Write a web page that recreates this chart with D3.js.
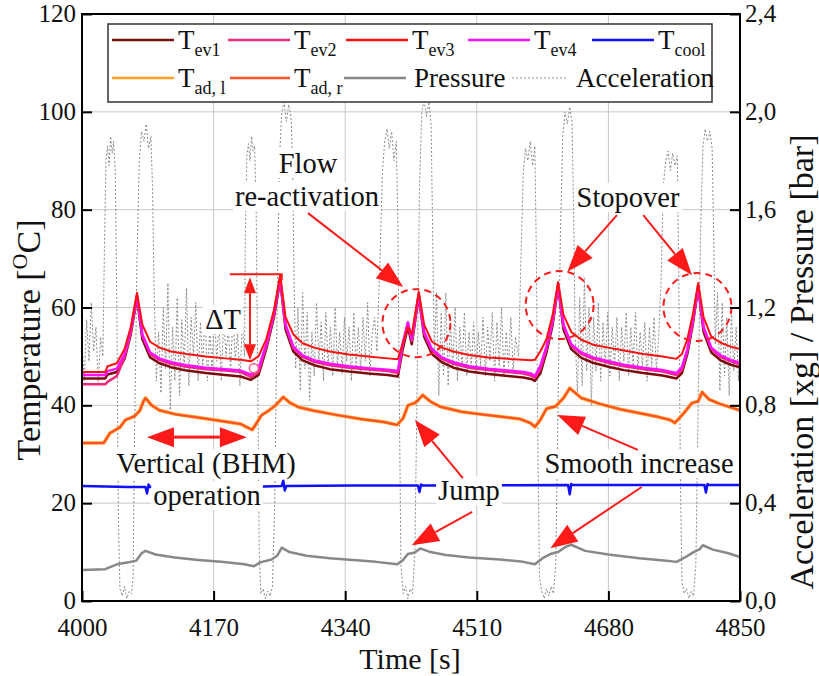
<!DOCTYPE html>
<html>
<head>
<meta charset="utf-8">
<script src="https://cdn.jsdelivr.net/npm/d3@7"></script>
<style>
  body { margin: 0; background: #fff; }
</style>
</head>
<body>
<div id="chart"></div>
<script>
// ---- data ----
let xTicks = [4000, 4170, 4340, 4510, 4680, 4850];
let yTicksLeft = [0, 20, 40, 60, 80, 100, 120];
let yTicksRight = [0, 0.4, 0.8, 1.2, 1.6, 2.0, 2.4];

// shared time base for the four evaporator temperatures [s]
let tevTime = [4000, 4030, 4033, 4045, 4055, 4063, 4071, 4078, 4088, 4100, 4115, 4135, 4160, 4185, 4205, 4218, 4228, 4238, 4248, 4256,
    4263, 4273, 4285, 4300, 4320, 4345, 4370, 4395, 4408, 4414, 4421, 4426, 4435, 4442, 4452, 4465, 4480, 4500, 4525, 4550,
    4570, 4580, 4585, 4592, 4600, 4608, 4615, 4622, 4632, 4645, 4660, 4680, 4700, 4725, 4750, 4768, 4775, 4782, 4789, 4796,
    4803, 4813, 4825, 4838, 4850];
let tev1 = [45.5, 45.5, 46.3, 46.8, 49.5, 54.5, 62.0, 53.5, 49.8, 48.6, 47.8, 47.1, 46.6, 46.2, 45.9, 45.2, 46.2, 51.5, 58.0, 65.5,
    55.5, 51.0, 49.2, 48.2, 47.4, 46.9, 46.5, 46.2, 45.9, 51.2, 56.0, 52.5, 62.3, 54.0, 50.5, 48.8, 47.7, 46.9, 46.4, 46.0,
    45.7, 45.4, 45.0, 46.5, 50.8, 56.5, 64.3, 55.5, 51.5, 49.7, 48.7, 47.9, 47.2, 46.6, 46.1, 45.5, 46.6, 50.5, 56.5, 64.0,
    55.0, 50.8, 49.2, 48.3, 47.8];
let tev2 = [44.3, 44.3, 44.8, 46.0, 49.8, 55.0, 62.3, 54.2, 50.5, 49.3, 48.5, 47.9, 47.4, 47.1, 46.8, 45.8, 46.8, 52.0, 58.5, 65.8,
    56.2, 51.7, 49.9, 48.9, 48.2, 47.7, 47.3, 47.0, 46.6, 52.0, 56.8, 53.2, 62.6, 54.7, 51.2, 49.5, 48.5, 47.7, 47.2, 46.8,
    46.5, 46.1, 45.6, 47.3, 51.5, 57.0, 64.6, 56.2, 52.2, 50.5, 49.5, 48.7, 48.0, 47.4, 46.9, 46.2, 47.2, 51.0, 57.0, 64.3,
    55.7, 51.5, 49.9, 49.0, 48.4];
let tev3 = [46.8, 46.8, 48.0, 48.6, 51.5, 56.0, 63.0, 56.5, 53.0, 51.8, 51.0, 50.5, 50.0, 49.6, 49.3, 49.0, 50.0, 53.5, 59.5, 66.6,
    58.0, 54.5, 52.7, 51.8, 51.0, 50.4, 50.0, 49.6, 49.4, 52.5, 56.0, 54.5, 63.2, 56.5, 53.0, 51.8, 51.0, 50.3, 49.8, 49.5,
    49.3, 49.2, 49.3, 51.0, 53.5, 58.5, 65.2, 58.5, 55.0, 53.4, 52.4, 51.8, 51.2, 50.5, 50.0, 49.5, 50.5, 53.5, 58.5, 65.0,
    58.0, 54.0, 52.8, 52.0, 51.5];
let tev4 = [46.2, 46.2, 47.0, 47.5, 50.5, 55.5, 62.5, 54.5, 50.8, 49.6, 48.8, 48.2, 47.7, 47.4, 47.1, 46.3, 47.5, 52.5, 59.0, 66.0,
    56.5, 52.0, 50.2, 49.2, 48.5, 48.0, 47.6, 47.3, 47.0, 52.5, 57.0, 53.5, 62.8, 55.0, 51.5, 49.8, 48.8, 48.0, 47.5, 47.1,
    46.8, 46.5, 46.0, 48.0, 52.0, 57.5, 64.8, 56.5, 52.5, 50.8, 49.8, 49.0, 48.3, 47.7, 47.2, 46.6, 47.8, 51.5, 57.5, 64.5,
    56.0, 51.8, 50.2, 49.3, 48.7];

// adiabatic wall temperatures (left and right traces coincide) [s, degC]
let tad = [[4000, 32.3], [4028, 32.3], [4036, 34.3], [4049, 35.5], [4056, 37.0], [4068, 37.8], [4075, 39.0], [4079, 40.7], [4082, 41.5],
    [4090, 40.0], [4100, 39.0], [4120, 38.2], [4150, 37.5], [4180, 36.8], [4205, 36.2], [4212, 35.6], [4220, 35.0], [4226, 36.5],
    [4232, 38.0], [4242, 39.0], [4250, 40.0], [4260, 41.7], [4268, 40.6], [4280, 39.6], [4300, 38.9], [4330, 38.0], [4360, 37.2],
    [4390, 36.6], [4407, 36.0], [4415, 37.4], [4421, 40.0], [4430, 40.5], [4434, 41.0], [4440, 42.1], [4450, 40.8], [4463, 39.7],
    [4490, 38.7], [4514, 38.2], [4545, 37.6], [4566, 37.2], [4579, 36.4], [4585, 35.6], [4592, 37.0], [4600, 39.3], [4612, 39.8],
    [4622, 41.5], [4630, 43.5], [4645, 41.5], [4669, 40.3], [4695, 39.2], [4721, 38.4], [4745, 37.6], [4760, 37.0], [4766, 36.4],
    [4778, 38.5], [4788, 40.5], [4796, 40.8], [4801, 42.7], [4810, 41.2], [4824, 40.3], [4850, 39.0]];

let tcool = [[4000, 23.5], [4030, 23.4], [4060, 23.3], [4082, 23.3], [4084, 22.0], [4086, 23.8], [4088, 23.3], [4150, 23.4],
    [4235, 23.4], [4258, 23.5], [4260, 24.6], [4262, 22.6], [4264, 23.5], [4350, 23.6], [4434, 23.6], [4436, 22.3], [4438, 23.8],
    [4440, 23.6], [4628, 23.7], [4630, 21.8], [4632, 23.9], [4634, 23.7], [4804, 23.7], [4806, 22.2], [4808, 23.9], [4810, 23.7],
    [4850, 23.7]];

// pressure [bar]
let pressure = [[4000, 0.127], [4030, 0.130], [4045, 0.150], [4060, 0.158], [4070, 0.165], [4077, 0.195], [4082, 0.205], [4095, 0.190],
    [4120, 0.178], [4150, 0.168], [4180, 0.160], [4210, 0.150], [4222, 0.142], [4230, 0.158], [4245, 0.170], [4252, 0.185],
    [4258, 0.218], [4268, 0.200], [4290, 0.185], [4320, 0.175], [4350, 0.168], [4380, 0.160], [4407, 0.150], [4414, 0.165],
    [4421, 0.192], [4430, 0.198], [4437, 0.215], [4450, 0.200], [4470, 0.188], [4500, 0.178], [4540, 0.170], [4570, 0.160],
    [4585, 0.150], [4595, 0.175], [4605, 0.192], [4615, 0.200], [4625, 0.222], [4632, 0.230], [4650, 0.205], [4680, 0.190],
    [4720, 0.175], [4755, 0.165], [4768, 0.160], [4780, 0.180], [4790, 0.200], [4798, 0.212], [4802, 0.228], [4815, 0.210],
    [4835, 0.195], [4850, 0.180]];

// acceleration [xg]
let accel = [[4000, 1.05], [4003, 0.90], [4006, 1.15], [4009, 0.98], [4012, 1.22], [4015, 1.02], [4018, 1.12], [4021, 0.88], [4024, 1.08], [4027, 1.00],
    [4029, 1.45], [4031, 1.80], [4033, 1.86], [4035, 1.78], [4037, 1.90], [4039, 1.83], [4041, 1.88], [4043, 1.75], [4045, 1.20], [4047, 0.35],
    [4049, 0.05], [4052, 0.02], [4055, 0.06], [4058, 0.01], [4061, 0.04], [4064, 0.03], [4066, 0.10], [4068, 0.70], [4071, 1.40], [4074, 1.80],
    [4077, 1.92], [4080, 1.88], [4083, 1.95], [4086, 1.85], [4089, 1.90], [4091, 1.70], [4093, 1.30], [4096, 0.90],
    [4099, 1.10], [4102, 0.85], [4105, 1.20], [4108, 0.95], [4111, 1.30], [4114, 0.78], [4117, 1.12], [4120, 0.90], [4123, 1.24], [4126, 0.84],
    [4129, 1.15], [4132, 0.95], [4135, 1.28], [4138, 0.88], [4141, 1.16], [4144, 1.00], [4147, 1.22], [4150, 0.90], [4153, 1.14], [4156, 0.96],
    [4159, 1.18], [4162, 0.90], [4165, 1.12], [4168, 0.94], [4171, 1.20], [4174, 0.98], [4177, 1.14], [4180, 0.90], [4183, 1.16], [4186, 1.00],
    [4189, 1.12], [4192, 0.94], [4195, 1.18], [4198, 0.98], [4201, 1.10], [4204, 0.88], [4207, 1.14], [4210, 1.00],
    [4211, 1.50], [4213, 1.82], [4215, 1.87], [4217, 1.80], [4219, 1.90], [4221, 1.84], [4223, 1.86], [4225, 1.60], [4227, 0.90], [4229, 0.20],
    [4231, 0.03], [4234, 0.05], [4237, 0.01], [4240, 0.04], [4243, 0.02], [4246, 0.06], [4249, 0.40], [4252, 1.20], [4255, 1.80], [4258, 2.00],
    [4261, 2.04], [4264, 1.96], [4267, 2.03], [4270, 1.98], [4272, 1.80], [4274, 1.30], [4276, 0.95],
    [4279, 1.20], [4282, 0.86], [4285, 1.26], [4288, 0.95], [4291, 1.18], [4294, 0.82], [4297, 1.10], [4300, 0.92], [4303, 1.22], [4306, 0.98],
    [4309, 1.14], [4312, 0.90], [4315, 1.18], [4318, 0.96], [4321, 1.12], [4324, 0.92], [4327, 1.20], [4330, 0.96], [4333, 1.10], [4336, 0.93],
    [4339, 1.16], [4342, 0.98], [4345, 1.12], [4348, 0.90], [4351, 1.18], [4354, 0.96], [4357, 1.12], [4360, 0.94], [4363, 1.16], [4366, 0.98],
    [4369, 1.22], [4372, 0.92], [4375, 1.10], [4378, 1.16],
    [4381, 1.02], [4385, 1.40], [4388, 1.75], [4391, 1.88], [4394, 1.93], [4397, 1.85], [4400, 1.92], [4403, 1.80], [4406, 1.88], [4408, 1.55],
    [4410, 0.80], [4412, 0.15], [4415, 0.03], [4418, 0.06], [4421, 0.01], [4424, 0.05], [4427, 0.03], [4430, 0.20], [4433, 0.90], [4436, 1.70],
    [4439, 2.00], [4442, 2.05], [4445, 1.98], [4448, 2.04], [4451, 1.95], [4453, 1.50], [4455, 1.00],
    [4458, 1.26], [4461, 0.84], [4464, 1.18], [4467, 0.92], [4470, 1.26], [4473, 0.88], [4476, 1.14], [4479, 0.95], [4482, 1.20], [4485, 0.90],
    [4488, 1.12], [4491, 0.96], [4494, 1.18], [4497, 0.92], [4500, 1.10], [4503, 0.96], [4506, 1.14], [4509, 0.93], [4512, 1.10], [4515, 0.96],
    [4518, 1.16], [4521, 0.92], [4524, 1.12], [4527, 0.98], [4530, 1.18], [4533, 0.90], [4536, 1.14], [4539, 0.96], [4542, 1.20], [4545, 0.92],
    [4548, 1.10], [4551, 0.96], [4554, 1.16], [4557, 0.94], [4560, 1.08],
    [4564, 1.00], [4567, 1.40], [4570, 1.75], [4573, 1.85], [4576, 1.80], [4579, 1.88], [4582, 1.78], [4585, 1.86], [4587, 1.40], [4589, 0.60],
    [4591, 0.10], [4594, 0.04], [4597, 0.01], [4600, 0.05], [4603, 0.02], [4606, 0.06], [4609, 0.03], [4612, 0.15], [4615, 0.80], [4618, 1.50],
    [4621, 1.90], [4624, 2.00], [4627, 1.95], [4630, 2.02], [4633, 1.96], [4635, 1.60], [4637, 1.10],
    [4640, 0.84], [4643, 1.24], [4646, 0.88], [4649, 1.32], [4652, 0.94], [4655, 1.20], [4658, 0.80], [4661, 1.16], [4664, 0.94], [4667, 1.22],
    [4670, 0.90], [4673, 1.14], [4676, 0.96], [4679, 1.18], [4682, 0.92], [4685, 1.12], [4688, 0.96], [4691, 1.16], [4694, 0.90], [4697, 1.12],
    [4700, 0.98], [4703, 1.18], [4706, 0.92], [4709, 1.12], [4712, 0.96], [4715, 1.18], [4718, 0.93], [4721, 1.10], [4724, 0.96], [4727, 1.14],
    [4730, 0.90], [4733, 1.12], [4736, 0.96], [4739, 1.16], [4742, 0.94], [4745, 1.08],
    [4748, 1.30], [4751, 1.70], [4754, 1.80], [4757, 1.84], [4760, 1.76], [4763, 1.83], [4766, 1.78], [4769, 1.82], [4771, 1.30], [4773, 0.50],
    [4775, 0.08], [4778, 0.03], [4781, 0.05], [4784, 0.01], [4787, 0.04], [4790, 0.02], [4793, 0.15], [4796, 0.80], [4799, 1.50], [4802, 1.85],
    [4805, 1.93], [4808, 1.88], [4811, 1.92], [4814, 1.85], [4816, 1.50], [4818, 1.05],
    [4821, 1.26], [4824, 0.86], [4827, 1.22], [4830, 0.92], [4833, 1.16], [4836, 0.84], [4839, 1.18], [4842, 0.94], [4845, 1.12], [4848, 0.90],
    [4850, 1.05]];

let colors = {
    tev1: "#7a0c0c", tev2: "#f0287a", tev3: "#ff1010", tev4: "#ff10ff", tcool: "#1010ff",
    tadL: "#ffa020", tadR: "#ff5028", pressure: "#888888", accel: "#8a8a8a"
};

// ---- layout ----
let width = 819, height = 676;
let mLeft = 82, mRight = 740, mTop = 14, mBottom = 601;
let fontSize = 27, tickFont = 25, noteFont = 28.5, titleFont = 34;
let serif = "'Liberation Serif', 'Times New Roman', Tinos, 'DejaVu Serif', serif";

let svg = d3.select("#chart").append("svg")
    .attr("width", width)
    .attr("height", height)
    .attr("font-family", serif)
    .style("font-family", serif);

let x = d3.scaleLinear().domain([4000, 4850]).range([mLeft, mRight]);
let yT = d3.scaleLinear().domain([0, 120]).range([mBottom, mTop]);
let yR = d3.scaleLinear().domain([0, 2.4]).range([mBottom, mTop]);

svg.append("defs").append("clipPath").attr("id", "plotClip")
    .append("rect").attr("x", mLeft).attr("y", mTop).attr("width", mRight - mLeft).attr("height", mBottom - mTop);

//grid
let grid = svg.append("g").attr("stroke", "#c8c8c8").attr("stroke-width", 1);
yTicksLeft.slice(1, -1).forEach(v => {
    grid.append("line").attr("x1", mLeft).attr("x2", mRight).attr("y1", yT(v)).attr("y2", yT(v));
});
xTicks.slice(1, -1).forEach(v => {
    grid.append("line").attr("x1", x(v)).attr("x2", x(v)).attr("y1", mTop).attr("y2", mBottom);
});

let plot = svg.append("g").attr("clip-path", "url(#plotClip)");

function DrawSeries(data, yScale, color, w, dash) {
    let line = d3.line().x(d => x(d[0])).y(d => yScale(d[1]));
    let p = plot.append("path")
        .datum(data)
        .attr("d", line)
        .attr("fill", "none")
        .attr("stroke", color)
        .attr("stroke-width", w)
        .attr("stroke-linejoin", "round");
    if (dash) p.attr("stroke-dasharray", dash);
    return p;
}

DrawSeries(accel, yR, colors.accel, 1, "2,2");
DrawSeries(pressure, yR, colors.pressure, 2.5);
DrawSeries(tcool, yT, colors.tcool, 2.5);
DrawSeries(tad, yT, colors.tadL, 3.5);
DrawSeries(tad, yT, colors.tadR, 2);
let zipTev = vals => tevTime.map((t, i) => [t, vals[i]]);
DrawSeries(zipTev(tev1), yT, colors.tev1, 2.5);
DrawSeries(zipTev(tev2), yT, colors.tev2, 2.5);
DrawSeries(zipTev(tev4), yT, colors.tev4, 2.5);
DrawSeries(zipTev(tev3), yT, colors.tev3, 2);

// ---- annotations ----
let ann = svg.append("g");
let red = "#ff1a1a";

function Label(cx, baseline, text) {
    let g = ann.append("g");
    let t = g.append("text")
        .attr("x", cx).attr("y", baseline)
        .attr("text-anchor", "middle")
        .attr("font-size", noteFont)
        .attr("fill", "#111")
        .text(text);
    let b = t.node().getBBox();
    g.insert("rect", "text")
        .attr("x", b.x - 2).attr("y", b.y + 1)
        .attr("width", b.width + 4).attr("height", b.height - 2)
        .attr("fill", "white");
}

function Arrow(x1, y1, x2, y2, headLen, headW, w) {
    let dx = x2 - x1, dy = y2 - y1, len = Math.sqrt(dx * dx + dy * dy);
    let ux = dx / len, uy = dy / len;
    let bx = x2 - ux * headLen, by = y2 - uy * headLen;
    ann.append("line")
        .attr("x1", x1).attr("y1", y1).attr("x2", bx).attr("y2", by)
        .attr("stroke", red).attr("stroke-width", w);
    ann.append("path")
        .attr("d", "M" + x2 + "," + y2 + "L" + (bx - uy * headW) + "," + (by + ux * headW) +
            "L" + (bx + uy * headW) + "," + (by - ux * headW) + "Z")
        .attr("fill", red);
}

function DoubleArrow(x1, y1, x2, y2, headLen, headW, w) {
    let mx = (x1 + x2) / 2, my = (y1 + y2) / 2;
    Arrow(mx, my, x1, y1, headLen, headW, w);
    Arrow(mx, my, x2, y2, headLen, headW, w);
}

//dashed circles
[[4432, 56.8], [4617, 60.5], [4795, 60.1]].forEach(c => {
    ann.append("circle")
        .attr("cx", x(c[0])).attr("cy", yT(c[1])).attr("r", 34)
        .attr("fill", "none").attr("stroke", red).attr("stroke-width", 2)
        .attr("stroke-dasharray", "7,5");
});

//delta T marker
ann.append("path")
    .attr("d", "M" + x(4191) + "," + yT(66.8) + "H" + x(4258) + "V" + yT(65.5))
    .attr("fill", "none").attr("stroke", red).attr("stroke-width", 2);
DoubleArrow(x(4217), yT(66.2), x(4217), yT(49.2), 16, 6, 2);
ann.append("circle").attr("cx", x(4222)).attr("cy", yT(47.6)).attr("r", 4.5)
    .attr("fill", "white").attr("stroke", "#ff5a8a").attr("stroke-width", 1.5);
Label(223, 329, "ΔT");

Label(308, 173, "Flow");
Label(307, 206, "re-activation");
Arrow(x(4292), yT(79.3), x(4415), yT(64.2), 27, 10, 2);

Label(628, 207, "Stopover");
Arrow(x(4691), yT(78.9), x(4627), yT(67.3), 27, 10, 2);
Arrow(x(4725), yT(78.9), x(4788), yT(66.6), 27, 10, 2);

DoubleArrow(x(4084), yT(33.5), x(4213), yT(33.5), 27, 10, 3);
Label(206, 473, "Vertical (BHM)");
Label(207, 505, "operation");

Label(469, 500, "Jump");
Arrow(x(4492), yT(25.1), x(4430), yT(37.0), 27, 10, 2);
Arrow(x(4504), yT(18.2), x(4426), yT(11.4), 27, 10, 2);

Label(639, 473, "Smooth increase");
Arrow(x(4718), yT(30.9), x(4614), yT(38.0), 27, 10, 2);
Arrow(x(4723), yT(23.3), x(4605), yT(10.8), 27, 10, 2);

// ---- axes ----
let fmtR = v => d3.format(".1f")(v).replace(".", ",");

let axL = svg.append("g").attr("transform", "translate(" + mLeft + ",0)")
    .call(d3.axisLeft(yT).tickValues(yTicksLeft).tickSize(-10).tickPadding(6));
let axR = svg.append("g").attr("transform", "translate(" + mRight + ",0)")
    .call(d3.axisRight(yR).tickValues(yTicksRight).tickSize(-10).tickPadding(5).tickFormat(fmtR));
let axB = svg.append("g").attr("transform", "translate(0," + mBottom + ")")
    .call(d3.axisBottom(x).tickValues(xTicks).tickSize(-10).tickPadding(17).tickFormat(d3.format("d")));

[axL, axR, axB].forEach(a => {
    a.attr("font-family", serif);
    a.select(".domain").remove();
    a.selectAll(".tick line").attr("stroke", "#000").attr("stroke-width", 2);
    a.selectAll(".tick text").attr("font-size", tickFont).attr("fill", "#111");
});
axL.selectAll(".tick text").attr("dy", "0.3em");
axR.selectAll(".tick text").attr("dy", "0.3em");

svg.append("rect")
    .attr("x", mLeft).attr("y", mTop).attr("width", mRight - mLeft).attr("height", mBottom - mTop)
    .attr("fill", "none").attr("stroke", "#000").attr("stroke-width", 2);

//axis titles
svg.append("text")
    .attr("x", 410).attr("y", 669)
    .attr("text-anchor", "middle").attr("font-size", 30).attr("fill", "#111")
    .text("Time [s]");

let tl = svg.append("text")
    .attr("transform", "translate(40,340) rotate(-90)")
    .attr("text-anchor", "middle").attr("font-size", titleFont).attr("fill", "#111");
tl.append("tspan").text("Temperature [");
tl.append("tspan").attr("font-size", 22).attr("dy", -13).text("O");
tl.append("tspan").attr("dy", 13).text("C]");

svg.append("text")
    .attr("transform", "translate(813,362) rotate(-90)")
    .attr("text-anchor", "middle").attr("font-size", titleFont).attr("fill", "#111")
    .text("Acceleration [xg] / Pressure [bar]");

// ---- legend ----
let legend = svg.append("g");
legend.append("rect")
    .attr("x", 108).attr("y", 24).attr("width", 604).attr("height", 78)
    .attr("fill", "white").attr("stroke", "#333").attr("stroke-width", 1.5);

let legendNames = ["ev1", "ev2", "ev3", "ev4", "cool", "ad, l", "ad, r", "Pressure", "Acceleration"];
let legendColors = [colors.tev1, colors.tev2, colors.tev3, colors.tev4, colors.tcool, colors.tadL, colors.tadR, colors.pressure, colors.accel];
let legendLineX = [112, 228, 346, 468, 592, 112, 230, 344, 512];
let legendLineLen = [62, 62, 62, 62, 62, 62, 60, 62, 56];
let legendRow = [0, 0, 0, 0, 0, 1, 1, 1, 1];

legendNames.forEach((name, i) => {
    let ly = legendRow[i] ? 78 : 40;
    let base = legendRow[i] ? 87 : 49;
    let x0 = legendLineX[i], x1 = x0 + legendLineLen[i];
    let ln = legend.append("line")
        .attr("x1", x0).attr("x2", x1).attr("y1", ly).attr("y2", ly)
        .attr("stroke", legendColors[i]).attr("stroke-width", i == 8 ? 1 : 2.5);
    if (i == 8) ln.attr("stroke-dasharray", "2,2");
    let t = legend.append("text").attr("x", x1 + 4).attr("y", base).attr("font-size", fontSize).attr("fill", "#111");
    if (i < 7) {
        t.append("tspan").text("T");
        t.append("tspan").attr("font-size", 18).attr("dy", 7).text(name);
    } else {
        t.attr("x", x1 + 8).text(name);
    }
});
</script>
</body>
</html>
